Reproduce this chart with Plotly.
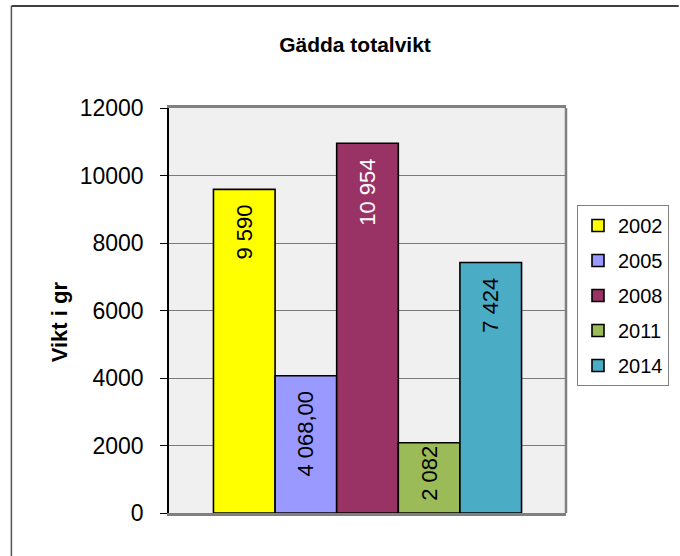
import plotly.graph_objects as go

# data
years = ["2002", "2005", "2008", "2011", "2014"]
weights = [9590, 4068, 10954, 2082, 7424]
labels = ["9 590", "4 068,00", "10 954", "2 082", "7 424"]
colors = ["#FFFF00", "#9999FF", "#993366", "#9BBB59", "#4BACC6"]
label_colors = ["black", "black", "white", "black", "black"]

W, H = 680, 556
L, R, T, B = 169, 113, 108, 43
plot_w = W - L - R
plot_h = H - T - B

def px_x(px):
    return (px - L) / plot_w

def px_y(py):
    return (H - B - py) / plot_h

font = "Liberation Sans, Arial, sans-serif"

fig = go.Figure()
for year, w, lab, col, tcol in zip(years, weights, labels, colors, label_colors):
    # short bars keep the label tight to the top, tall ones get a little air
    pad = "\u00a0\u00a0" if w > 3000 else ""
    fig.add_trace(go.Bar(
        x=["Gädda"],
        y=[w],
        name=year,
        legendgroup=year,
        marker=dict(color=col, line=dict(color="black", width=1.6)),
        text=[lab + pad],
        textposition="inside",
        insidetextanchor="end",
        textangle=-90,
        constraintext="none",
        textfont=dict(family=font, size=22, color=tcol),
        hoverinfo="skip",
    ))

fig.update_layout(
    width=W,
    height=H,
    margin=dict(l=L, r=R, t=T, b=B),
    paper_bgcolor="white",
    plot_bgcolor="#F0F0F0",
    barmode="group",
    bargap=0.224,
    bargroupgap=0,
    font=dict(family=font, color="black"),
    title=dict(
        text="<b>Gädda totalvikt</b>",
        font=dict(size=21, color="black"),
        x=355 / W, xref="container", xanchor="center",
        y=1 - 44.5 / H, yref="container", yanchor="middle",
    ),
    legend=dict(
        x=px_x(577), xanchor="left",
        y=px_y(205), yanchor="top",
        bordercolor="#808080",
        borderwidth=1,
        bgcolor="white",
        font=dict(size=20),
        tracegroupgap=6,
        itemwidth=30,
    ),
    showlegend=True,
)

fig.update_xaxes(
    showticklabels=False,
    showgrid=False,
    showline=True,
    linecolor="#808080",
    linewidth=2.5,
    mirror=True,
    ticks="",
)

fig.update_yaxes(
    range=[0, 12000],
    dtick=2000,
    tickformat="d",
    showgrid=True,
    gridcolor="#7A7A7A",
    gridwidth=1.4,
    showline=True,
    linecolor="black",
    linewidth=1.5,
    ticks="outside",
    ticklen=7,
    tickcolor="black",
    tickwidth=1.2,
    ticklabelstandoff=12,
    tickfont=dict(size=23),
    zeroline=False,
)

fig.add_annotation(
    text="<b>Vikt i gr</b>",
    xref="paper", yref="paper",
    x=px_x(59), y=px_y(322),
    xanchor="center", yanchor="middle",
    showarrow=False,
    textangle=-90,
    font=dict(size=22, color="black"),
)

# right edge of the plot area
fig.add_shape(type="line", xref="paper", yref="paper",
              x0=1, x1=1, y0=0, y1=1,
              line=dict(color="#808080", width=2.5))

# frame of the chart object (cropped at right and bottom)
fig.add_shape(type="line", xref="paper", yref="paper",
              x0=px_x(11), x1=px_x(W), y0=px_y(6), y1=px_y(6),
              line=dict(color="black", width=1.5))
fig.add_shape(type="line", xref="paper", yref="paper",
              x0=px_x(11), x1=px_x(11), y0=px_y(6), y1=px_y(H),
              line=dict(color="#555555", width=1.5))

# drop the browser's default body margin so the figure sits at the page corner
fig.write_html(
    "out.html",
    config={"displayModeBar": False},
    post_script="document.body.style.margin='0px';",
)
